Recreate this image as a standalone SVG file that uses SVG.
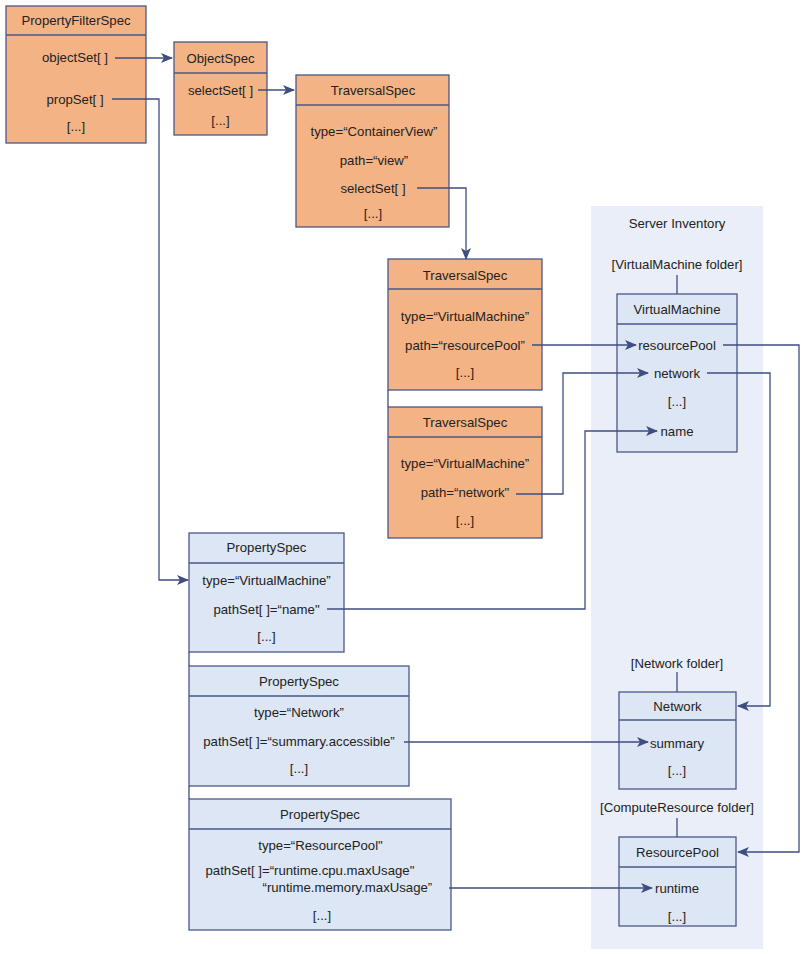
<svg xmlns="http://www.w3.org/2000/svg" width="805" height="954" viewBox="0 0 805 954">
<defs>
<style>
text{font-family:"Liberation Sans",Arial,sans-serif;font-size:13.2px;fill:#222;text-anchor:middle}
.o{fill:#f4b385;stroke:#4a5888;stroke-width:1.3}
.b{fill:#dce6f4;stroke:#4a5888;stroke-width:1.3}
.h{stroke:#4a5888;stroke-width:1.3;fill:none}
.c{stroke:#3f4e80;stroke-width:1.3;fill:none}
.c.a{marker-end:url(#ah)}
.l{text-anchor:start}
</style>
<marker id="ah" markerUnits="userSpaceOnUse" markerWidth="12" markerHeight="10" viewBox="0 0 12 10" refX="11" refY="5" orient="auto">
<path d="M0,0 L12,5 L0,10 L3,5 z" fill="#3f4e80"/>
</marker>
</defs>
<rect x="591" y="206" width="172" height="743" fill="#e9eef8"/>
<text x="677" y="228">Server Inventory</text>

<g id="PropertyFilterSpec">
<rect class="o" x="6" y="6" width="140" height="137"/>
<path class="h" d="M6,35 H146"/>
<text x="76" y="25">PropertyFilterSpec</text>
<text x="75" y="62">objectSet[ ]</text>
<text x="75" y="104">propSet[ ]</text>
<text x="76" y="131">[...]</text>
</g>

<g id="ObjectSpec">
<rect class="o" x="174" y="42" width="93" height="93"/>
<path class="h" d="M174,73 H267"/>
<text x="220.5" y="62.5">ObjectSpec</text>
<text x="220.5" y="95">selectSet[ ]</text>
<text x="220.5" y="124.5">[...]</text>
</g>

<g id="TraversalSpec1">
<rect class="o" x="296" y="75" width="153" height="152"/>
<path class="h" d="M296,105 H449"/>
<text x="373" y="95">TraversalSpec</text>
<text x="374" y="136">type=“ContainerView”</text>
<text x="374" y="164.5">path=“view”</text>
<text x="373" y="192.5">selectSet[ ]</text>
<text x="373" y="217.5">[...]</text>
</g>

<g id="TraversalSpec2">
<rect class="o" x="388" y="259" width="154" height="131"/>
<path class="h" d="M388,289 H542"/>
<text x="465" y="279.5">TraversalSpec</text>
<text x="465" y="320.5">type=“VirtualMachine”</text>
<text x="465" y="349.5">path=“resourcePool”</text>
<text x="465" y="377">[...]</text>
</g>

<g id="TraversalSpec3">
<rect class="o" x="388" y="407" width="154" height="131"/>
<path class="h" d="M388,437 H542"/>
<text x="465" y="427">TraversalSpec</text>
<text x="465" y="467.5">type=“VirtualMachine”</text>
<text x="465" y="497">path=“network"</text>
<text x="465" y="525">[...]</text>
</g>

<g id="VirtualMachineFolder">
<text x="677" y="268.5">[VirtualMachine folder]</text>
</g>

<g id="VirtualMachine">
<rect class="b" x="617" y="294" width="120" height="158"/>
<path class="h" d="M617,324 H737"/>
<text x="677" y="313.5">VirtualMachine</text>
<text x="677" y="349.5">resourcePool</text>
<text x="677" y="377.5">network</text>
<text x="677" y="406">[...]</text>
<text x="677" y="435.5">name</text>
</g>

<g id="PropertySpec1">
<rect class="b" x="189" y="533" width="155" height="119"/>
<path class="h" d="M189,563 H344"/>
<text x="266.5" y="552">PropertySpec</text>
<text x="266.5" y="584.5">type=“VirtualMachine”</text>
<text x="266.5" y="613.5">pathSet[ ]=“name"</text>
<text x="266.5" y="641">[...]</text>
</g>

<g id="PropertySpec2">
<rect class="b" x="189" y="666" width="220" height="120"/>
<path class="h" d="M189,696 H409"/>
<text x="299" y="685.5">PropertySpec</text>
<text x="299" y="717">type=“Network”</text>
<text x="299" y="746">pathSet[ ]=“summary.accessible”</text>
<text x="299" y="772.5">[...]</text>
</g>

<g id="PropertySpec3">
<rect class="b" x="189" y="799" width="262" height="131"/>
<path class="h" d="M189,829 H451"/>
<text x="320" y="818.5">PropertySpec</text>
<text x="320.5" y="850">type=“ResourcePool"</text>
<text class="l" x="205.5" y="874.5">pathSet[ ]=“runtime.cpu.maxUsage"</text>
<text class="l" x="262.5" y="891.5">“runtime.memory.maxUsage”</text>
<text x="322" y="919.5">[...]</text>
</g>

<g id="NetworkFolder">
<text x="677" y="667.5">[Network folder]</text>
</g>

<g id="Network">
<rect class="b" x="619" y="692" width="117" height="97"/>
<path class="h" d="M619,720 H736"/>
<text x="677.5" y="711">Network</text>
<text x="677" y="747.5">summary</text>
<text x="677" y="774.5">[...]</text>
</g>

<g id="ComputeResourceFolder">
<text x="677" y="812">[ComputeResource folder]</text>
</g>

<g id="ResourcePool">
<rect class="b" x="619" y="837" width="117" height="89"/>
<path class="h" d="M619,867 H736"/>
<text x="677.5" y="856.5">ResourcePool</text>
<text x="677" y="893">runtime</text>
<text x="677" y="920.5">[...]</text>
</g>

<g id="connectors">
<path class="c a" d="M115,58 H172"/>
<path class="c a" d="M258,90 H294"/>
<path class="c a" d="M417,188 H466 V259"/>
<path class="c a" d="M112,99 H159 V580 H188"/>
<path class="c a" d="M532,345 H636"/>
<path class="c a" d="M516,494 H563 V373 H648"/>
<path class="c a" d="M327,609 H585 V431 H657"/>
<path class="c a" d="M404,742 H648"/>
<path class="c a" d="M449,888 H652"/>
<path class="c a" d="M723,345 H799 V852 H738"/>
<path class="c a" d="M707,373 H770 V706 H738"/>
<path class="c" d="M677,275 V294"/>
<path class="c" d="M677,672 V692"/>
<path class="c" d="M677,818 V837"/>
<path class="c" d="M388,390 V407"/>
<path class="c" d="M189,652 V666"/>
<path class="c" d="M189,786 V799"/>
</g>
</svg>
